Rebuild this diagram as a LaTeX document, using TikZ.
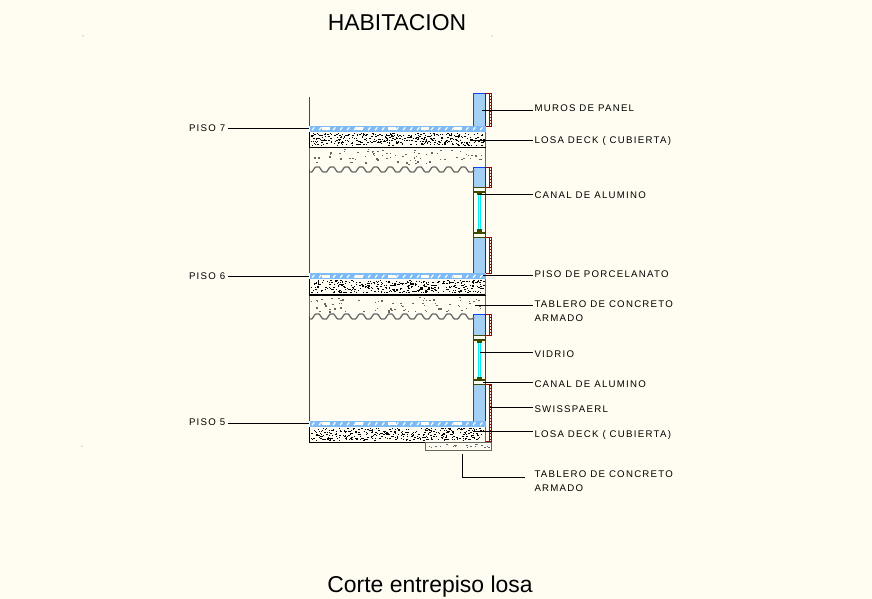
\documentclass[tikz,border=0pt]{standalone}
\usepackage{fontspec}
\setmainfont{Liberation Sans}
\newfontfamily\notefont[LetterSpace=13]{Liberation Sans}
\definecolor{paper}{HTML}{FFFDF2}
\definecolor{wallblue}{HTML}{0A45F5}
\definecolor{tileblue}{HTML}{7DBBF8}
\definecolor{walldither}{HTML}{A4D0F6}
\definecolor{panelred}{HTML}{8A0A0A}
\definecolor{frameolive}{HTML}{3C4A00}
\definecolor{glasscyan}{HTML}{00F0FA}
\definecolor{tablerogray}{HTML}{666666}
% x y w h count colour
\newcommand{\grains}[6]{
  \foreach \i in {1,...,#5} {
    \pgfmathsetmacro{\gx}{round(#1+rnd*(#3-1.5))}
    \pgfmathsetmacro{\gy}{round(#2+rnd*(#4-1.5))}
    \pgfmathsetmacro{\gw}{1+int(rnd*1.6)}
    \fill[#6] (\gx,\gy) rectangle ++(\gw,1);
  }
}
% y top of tile strip
\newcommand{\tiles}[1]{
  \fill[tileblue] (309.5,#1) rectangle (486,#1+6);
  \foreach \tx in {312,319,...,480} {
    \draw[paper,line width=0.9pt] (\tx,#1+4.2) -- ++(2.4,-2.8);
  }
  \foreach \tx in {322,355,...,480} {
    \fill[paper] (\tx,#1+1.4) rectangle ++(7.5,2.8);
  }
}
% y top, y bottom
\newcommand{\wallfill}[2]{
  \fill[walldither] (473.5,#1) rectangle (485.5,#2);
  \draw[wallline] (473.5,#1) rectangle (485.5,#2);
}
% y top, y bottom
\newcommand{\wallpiece}[2]{
  \wallfill{#1}{#2}
  \draw[panel] (485.5,#1) rectangle (491.5,#2);
  \draw[panel] (489.3,#1) -- (489.3,#2);
  \draw[panelrungs] (490.4,#1) -- (490.4,#2);
}
% y top, y bottom
\newcommand{\windowpiece}[2]{
  \draw[frame] (473.5,#1) rectangle (485.5,#2);
  \draw[frame] (473.5,#1+4.5) -- (485.5,#1+4.5);
  \draw[frame] (473.5,#2-4.5) -- (485.5,#2-4.5);
  \fill[glasscyan] (477.5,#1+6) rectangle (481,#2-6);
  \draw[paper,line width=0.5pt] (479.3,#1+6) -- (479.3,#2-6);
  \fill[frameolive] (477,#1+5) rectangle (481.5,#1+8);
  \fill[frameolive] (477,#2-8) rectangle (481.5,#2-5);
}
% y top, y bottom of corrugated tablero
\newcommand{\tablero}[2]{
  \draw[grayline,domain=310:474,samples=160] plot (\x,{#2-2.5+max(-2.5,min(2.5,3.6*cos((\x-310)/14.6*360)))});
  \draw[grayline] (309.5,#1) -- (309.5,#2-2.5);
  \draw[grayline] (485.5,#1) -- (485.5,#2-5);
  \grains{311}{#1+1}{173}{#2-#1-7}{60}{tablerogray}
  \foreach \i in {1,...,14} {
    \pgfmathsetmacro{\gx}{round(311+rnd*170)}
    \pgfmathsetmacro{\gy}{round(#1+3+rnd*(#2-#1-11))}
    \fill[tablerogray] (\gx,\gy) rectangle ++(2,2);
  }
}
\begin{document}
\begin{tikzpicture}[x=0.75pt,y=-0.75pt,line width=0.75pt,
leader/.style={draw=black,line width=0.75pt},
wallline/.style={draw=wallblue,line width=1.05pt},
grayline/.style={draw=tablerogray,line width=0.95pt},
panel/.style={draw=panelred,line width=0.9pt},
panelrungs/.style={draw=panelred,line width=1.6pt,dash pattern=on 0.75pt off 1.5pt},
frame/.style={draw=frameolive,line width=0.95pt},
notelabel/.style={anchor=west,inner sep=0.75pt,font=\notefont\fontsize{7.25pt}{10.5pt}\selectfont,align=left},
titlelabel/.style={inner sep=0pt,font=\fontsize{17.2pt}{20pt}\selectfont}]
\fill[paper] (0,0) rectangle (872,599);
\useasboundingbox (0,0) rectangle (872,599);
\pgfmathsetseed{4217}

% specks
\fill[black!70] (83,36) circle (0.5);
\fill[black!70] (492,36) circle (0.5);
\fill[black!70] (82,446) circle (0.5);

\draw (397,23) node[titlelabel] (title) {HABITACION};
\draw (430,587) node[titlelabel] (subtitle) {Corte entrepiso losa};

% room line
\draw[wallline] (309.5,97) -- (309.5,126);
\draw[wallline] (309.5,168) -- (309.5,273);
\draw[wallline] (309.5,315) -- (309.5,421);

% walls
\wallpiece{93.5}{126.5}
\wallpiece{167.5}{187.5}
\wallpiece{237.5}{273.5}
\wallpiece{314.5}{335.5}
\wallfill{384.5}{421.5}
\draw[panel] (485.5,384.5) rectangle (491.5,441.5);
\draw[panel] (489.3,384.5) -- (489.3,441.5);
\draw[panelrungs] (490.4,384.5) -- (490.4,441.5);

% windows
\windowpiece{187.5}{237.5}
\windowpiece{335.5}{384.5}

% slabs
\tablero{148}{172}
\tablero{295}{319}
\tiles{126}
\tiles{273.5}
\tiles{421}
\foreach \sy in {132,279.5,427} {
  \grains{311}{\sy+0.5}{174}{14}{390}{black}
  \draw[black,line width=0.9pt] (309.5,\sy) -- (309.5,\sy+15.5) -- (485.5,\sy+15.5);
  \draw[black!60,line width=0.6pt] (485.5,\sy) -- (485.5,\sy+15.5);
}

% small tablero under the last slab
\draw[grayline] (425.5,442.5) rectangle (491.5,450.5);
\grains{428}{444}{62}{5}{22}{tablerogray}

% floor levels
\draw (187.5,128) node[notelabel] (piso7) {PISO 7};
\draw (187.5,276) node[notelabel] (piso6) {PISO 6};
\draw (187.5,422) node[notelabel] (piso5) {PISO 5};
\coordinate (lev7) at (309,128.5);
\coordinate (lev6) at (309,276.5);
\coordinate (lev5) at (309,423.5);
\draw[leader] (228,128.5) -- (lev7);
\draw[leader] (228,276.5) -- (lev6);
\draw[leader] (228,423.5) -- (lev5);

% notes
\draw (533,108.5) node[notelabel] (muros) {MUROS DE PANEL};
\draw (533,140.5) node[notelabel] (losa1) {LOSA DECK ( CUBIERTA)};
\draw (533,195) node[notelabel] (canal1) {CANAL DE ALUMINO};
\draw (533,274) node[notelabel] (piso) {PISO DE PORCELANATO};
\draw (533,311) node[notelabel] (tablero1) {TABLERO DE CONCRETO\\ARMADO};
\draw (533,354) node[notelabel] (vidrio) {VIDRIO};
\draw (533,384) node[notelabel] (canal2) {CANAL DE ALUMINO};
\draw (533,409) node[notelabel] (swiss) {SWISSPAERL};
\draw (533,434.5) node[notelabel] (losa2) {LOSA DECK ( CUBIERTA)};
\draw (533,481) node[notelabel] (tablero2) {TABLERO DE CONCRETO\\ARMADO};

\coordinate (a1) at (481.5,110.5);
\coordinate (a2) at (470,140.5);
\coordinate (a3) at (479,194.5);
\coordinate (a4) at (483,275.5);
\coordinate (a5) at (475,305.5);
\coordinate (a6) at (480,352.5);
\coordinate (a7) at (483,382.5);
\coordinate (a8) at (490,407.5);
\coordinate (a9) at (473,431.5);
\coordinate (a10) at (462.5,454);
\coordinate (e1) at (533,110.5);
\coordinate (e2) at (533,140.5);
\coordinate (e3) at (533,194.5);
\coordinate (e4) at (533,275.5);
\coordinate (e5) at (533,305.5);
\coordinate (e6) at (533,352.5);
\coordinate (e7) at (533,382.5);
\coordinate (e8) at (533,407.5);
\coordinate (e9) at (533,431.5);
\coordinate (e10) at (525,477.5);
\foreach \n in {1,...,9} {
  \draw[leader] (a\n) -- (e\n);
}
\draw[leader] (a10) |- (e10);
\end{tikzpicture}
\end{document}
